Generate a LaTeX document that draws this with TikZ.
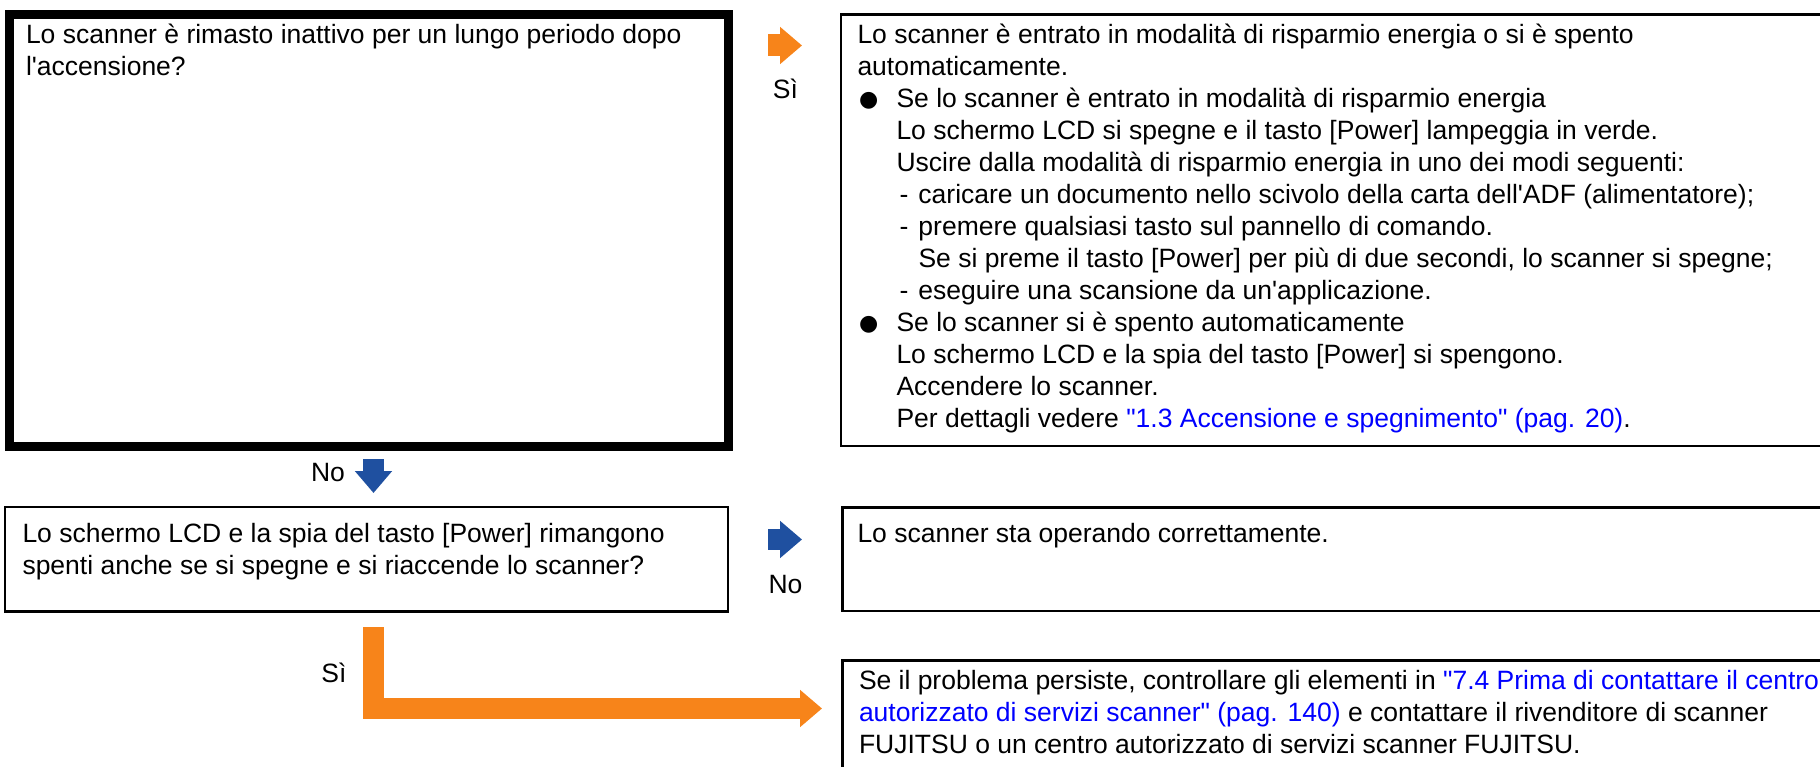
\documentclass[tikz,border=0pt]{standalone}
\usepackage{fontspec}
\setmainfont{Liberation Sans}[Ligatures=TeXOff]
\newfontfamily\dejavu{DejaVu Sans}
\usetikzlibrary{arrows.meta}
\definecolor{arrorange}{RGB}{247,132,26}
\definecolor{arrblue}{RGB}{31,80,160}
\definecolor{linkblue}{RGB}{0,0,255}
\newcommand{\lnk}[1]{\textcolor{linkblue}{#1}}
\newcommand{\bul}{\makebox[39pt][l]{\hspace{1.5pt}\raisebox{0.5pt}{\fontsize{22}{22}\dejavu ●}}}
\newcommand{\ind}{\hspace*{39pt}}
\newcommand{\dsh}{\hspace*{42pt}\makebox[19pt][l]{-}}
\newcommand{\dind}{\hspace*{61pt}}
\newcommand{\fs}{\fontsize{26.5}{32}\selectfont}
\begin{document}
\begin{tikzpicture}[x=1pt,y=-1pt,
  thickbox/.style={draw=black, line width=9pt, outer sep=0pt, inner sep=0pt, anchor=north west},
  thinbox/.style={draw=black, line width=2.2pt, outer sep=0pt, inner sep=0pt, anchor=north west},
  txt/.style={anchor=base west, inner sep=0pt, outer sep=0pt},
  lbl/.style={anchor=base, inner sep=0pt, outer sep=0pt, font=\fs},
  blockarrow/.style={draw=#1, line width=21pt, line join=miter, line cap=butt,
     -{Triangle[width=36pt,length=22pt,fill=#1]}}]
\useasboundingbox (0,0) rectangle (1820,767);
\clip (0,0) rectangle (1820,767);
% boxes
\node[thickbox, minimum width=719pt, minimum height=432pt] (q1) at (9.5,14.5) {};
\node[thinbox, minimum width=989pt, minimum height=431.5pt] (r1) at (841,14.5) {};
\node[thinbox, minimum width=723pt, minimum height=104.5pt] (q2) at (5,507) {};
\node[thinbox, minimum width=987.5pt, minimum height=103.5pt] (r2) at (842.5,507.5) {};
\node[thinbox, minimum width=987.5pt, minimum height=119.5pt] (r3) at (842.5,660.5) {};
% texts
\node[txt] (t1) at (26,43.5) {\parbox[t]{700pt}{\fs
Lo scanner è rimasto inattivo per un lungo periodo dopo\\
l'accensione?}};
\node[txt] (tr1) at (857.5,43.5) {\parbox[t]{960pt}{\fs
Lo scanner è entrato in modalità di risparmio energia o si è spento\\
automaticamente.\\
\bul Se lo scanner è entrato in modalità di risparmio energia\\
\ind Lo schermo LCD si spegne e il tasto [Power] lampeggia in verde.\\
\ind Uscire dalla modalità di risparmio energia in uno dei modi seguenti:\\
\dsh caricare un documento nello scivolo della carta dell'ADF (alimentatore);\\
\dsh premere qualsiasi tasto sul pannello di comando.\\
\dind Se si preme il tasto [Power] per più di due secondi, lo scanner si spegne;\\
\dsh eseguire una scansione da un'applicazione.\\
\bul Se lo scanner si è spento automaticamente\\
\ind Lo schermo LCD e la spia del tasto [Power] si spengono.\\
\ind Accendere lo scanner.\\
\ind Per dettagli vedere \lnk{"1.3 Accensione e spegnimento" (pag. 20)}.}};
\node[txt] (t2) at (22.5,542.5) {\parbox[t]{720pt}{\fs
Lo schermo LCD e la spia del tasto [Power] rimangono\\
spenti anche se si spegne e si riaccende lo scanner?}};
\node[txt] (tr2) at (857.5,542.5) {\fs Lo scanner sta operando correttamente.};
\node[txt] (tr3) at (859,689) {\parbox[t]{960pt}{\fs
Se il problema persiste, controllare gli elementi in \lnk{"7.4 Prima di contattare il centro}\\
\lnk{autorizzato di servizi scanner" (pag. 140)} e contattare il rivenditore di scanner\\
FUJITSU o un centro autorizzato di servizi scanner FUJITSU.}};
% arrow coordinates
\coordinate (a1s) at (768,45.5);
\coordinate (a1e) at (802,45.5);
\coordinate (a2s) at (768,539.5);
\coordinate (a2e) at (802,539.5);
\coordinate (a3s) at (373.5,459);
\coordinate (a3e) at (373.5,493);
\coordinate (a4s) at (373.5,627);
\coordinate (a4e) at (822,708.5);
\draw[blockarrow=arrorange, line width=22pt] (a1s) -- (a1e);
\draw[blockarrow=arrblue] (a2s) -- (a2e);
\draw[blockarrow=arrblue] (a3s) -- (a3e);
\draw[blockarrow=arrorange] (a4s) |- (a4e);
% labels
\node[lbl] (l1) at (785.5,99) {Sì};
\node[lbl] (l2) at (785.5,593) {No};
\node[lbl] (l3) at (328,481) {No};
\node[lbl] (l4) at (334,682) {Sì};
\end{tikzpicture}
\end{document}
